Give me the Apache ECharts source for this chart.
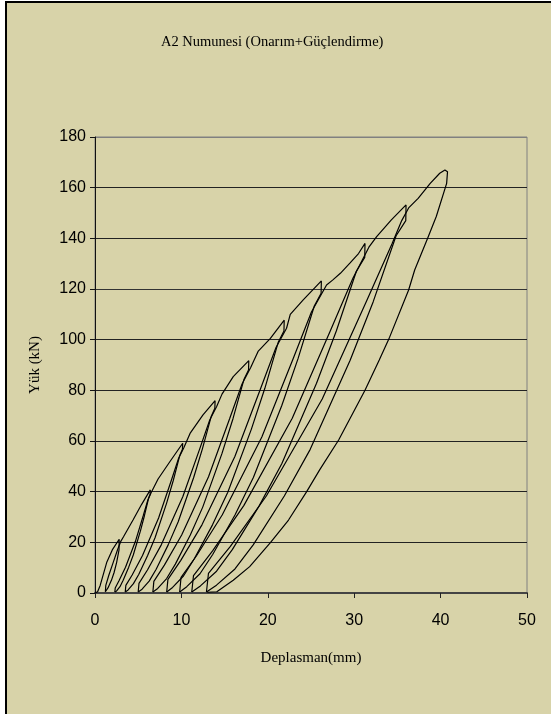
<!DOCTYPE html>
<html>
<head>
<meta charset="utf-8">
<script src="https://cdn.jsdelivr.net/npm/echarts/dist/echarts.min.js"></script>
<style>
html,body{margin:0;padding:0;background:#fff;}
#frame{position:absolute;left:5px;top:1px;width:546px;height:713px;box-sizing:border-box;border-top:2px solid #000;border-left:2px solid #000;background:#D8D3A9;}
#main{position:absolute;left:0;top:0;width:551px;height:714px;}
</style>
</head>
<body>
<div id="frame"></div>
<div id="main"></div>
<script>
// Displacement (mm), load (kN) pairs for each loading/unloading cycle
const cycle1 = [[0,0],[0.3,0.5],[0.5,0.3],[0.6,3],[1.35,12],[2.0,17],[2.8,21.2],[2.78,17],[2.5,12],[2.2,8],[1.9,5],[1.5,2],[1.2,0.5]];
const cycle2 = [[1.2,0.5],[1.25,3],[1.6,7],[2.1,12],[2.6,17],[3.0,20.5],[3.3,22.2],[4.4,28.8],[5.4,35],[6.4,40.7],
  [6.38,39],[6.2,37.4],[5.72,30.5],[5.25,24.4],[4.43,15],[3.9,10.2],[3.26,5],[2.89,2.5],[2.5,0.8],[2.3,0.4]];
const cycle3 = [[2.3,0.4],[2.34,2],[2.79,4.9],[3.53,10.2],[4.68,20.4],[5.58,30.5],[6.11,36.6],[6.48,39.5],[7.3,45],[8.7,52],[10.15,59.1],
  [10.12,56.7],[9.82,54.4],[9.05,44.3],[8.29,35.5],[6.96,21.9],[6.09,14.8],[5.06,7.3],[4.45,3.7],[3.83,1.2],[3.5,0.4]];
const cycle4 = [[3.5,0.4],[3.57,3],[4.3,7.1],[5.5,14.8],[7.36,29.6],[8.82,44.3],[9.68,53.2],[10.28,57.3],[11.0,63],[12.5,70.3],[13.9,75.9],
  [13.87,72.9],[13.46,69.8],[12.43,56.9],[11.41,45.5],[9.63,28.1],[8.47,19],[7.08,9.4],[6.27,4.7],[5.45,1.5],[5.0,0.4]];
const cycle5 = [[5.0,0.4],[5.09,3.8],[6.07,9.1],[7.67,19],[10.16,38],[12.12,56.9],[13.28,68.3],[14.08,73.6],[14.7,78.5],[16.0,85.4],[17.8,91.7],
  [17.77,88],[17.25,84.4],[15.97,68.8],[14.69,55],[12.47,33.9],[11.03,22.9],[9.3,11.4],[8.29,5.7],[7.26,1.8],[6.7,0.4]];
const cycle6 = [[6.7,0.4],[6.81,4.6],[8.03,11],[10.03,22.9],[13.14,45.9],[15.58,68.8],[17.02,82.5],[18.02,89],[18.9,95.5],[20.3,100.5],[21.9,107.7],
  [21.87,103.4],[21.22,99.1],[19.66,80.8],[18.09,64.6],[15.37,39.8],[13.6,26.9],[11.48,13.4],[10.24,6.7],[8.98,2.2],[8.3,0.4]];
const cycle7 = [[8.3,0.4],[8.44,5.4],[9.93,12.9],[12.38,26.9],[16.19,53.9],[19.18,80.8],[20.95,96.9],[22.17,104.5],[22.6,110],[24.1,115.7],[26.2,123.2],
  [26.17,118.3],[25.38,113.3],[23.49,92.4],[21.61,73.9],[18.33,45.6],[16.2,30.8],[13.64,15.3],[12.15,7.6],[10.62,2.5],[9.8,0.4]];
const cycle8 = [[9.8,0.4],[9.96,6.2],[11.77,14.8],[14.72,30.8],[19.31,61.6],[22.92,92.4],[25.05,110.9],[26.8,121.6],[27.5,123.5],[28.4,126.2],[29.5,130.2],[30.5,134],[31.25,138],
  [31.22,132.5],[30.25,127],[27.94,103.5],[25.64,82.8],[21.63,51.1],[19.02,34.5],[15.89,17.1],[14.07,8.6],[12.2,2.8],[11.2,0.4]];
const cycle9 = [[11.2,0.4],[11.4,6.9],[13.61,16.6],[17.22,34.5],[22.83,69],[27.24,103.5],[29.85,124.2],[31.7,136.5],[32.6,140.7],[34.3,147.3],[36.0,153.2],
  [35.97,147],[34.85,141],[32.19,114.9],[29.53,91.9],[24.91,56.7],[21.91,38.3],[18.31,19],[16.2,9.5],[14.06,3.1],[12.9,0.4]];
const cycle10 = [[12.9,0.4],[13.13,7.7],[15.67,18.4],[19.83,38.3],[26.3,76.6],[31.38,114.9],[34.38,137.9],[35.5,147],[36.3,152],[37.4,155.8],[38.8,161.7],[39.9,165.7],[40.5,167],[40.8,166.3],[40.7,161.7],
  [39.5,148.6],[38.5,140],[37,127.5],[36.3,119.6],[34.1,101],[32.9,92],[31.25,80],[28.2,60.4],[26,48.6],[24.5,40],[22.4,28.8],[20.3,19.9],[17.9,10.4],[16,5],[14.1,0.5],[13.0,0.3]];

const cycles = [cycle1,cycle2,cycle3,cycle4,cycle5,cycle6,cycle7,cycle8,cycle9,cycle10];
const titleText = 'A2 Numunesi (Onarım+Güçlendirme)';
const xName = 'Deplasman(mm)';
const yName = 'Yük (kN)';

const chart = echarts.init(document.getElementById('main'), null, {renderer:'canvas'});
const gridColors = ['#222','#222','#222','#222','#222','#222','#333','#222','#222','#808080'];
chart.setOption({
  backgroundColor: 'transparent',
  animation: false,
  title: {
    text: titleText, left: 156, top: 30,
    textStyle: {fontFamily: 'Liberation Serif', fontWeight: 'normal', fontSize: 14.5, color: '#000'}
  },
  grid: {left: 95, right: 24, top: 137, bottom: 121, show: true, borderColor: '#808080', borderWidth: 1, backgroundColor: 'transparent'},
  xAxis: {
    type: 'value', min: 0, max: 50, interval: 10,
    name: xName, nameLocation: 'middle', nameGap: 58,
    nameTextStyle: {fontFamily: 'Liberation Serif', fontSize: 15, color: '#000'},
    axisLine: {show: true, lineStyle: {color: '#444', width: 2}},
    axisTick: {show: true, inside: false, length: 5, lineStyle: {color: '#222', width: 1}},
    axisLabel: {fontFamily: 'Liberation Sans', fontSize: 16, color: '#000', margin: 20},
    splitLine: {show: false}
  },
  yAxis: {
    type: 'value', min: 0, max: 180, interval: 20,
    name: yName, nameLocation: 'middle', nameGap: 52, nameRotate: 90,
    nameTextStyle: {fontFamily: 'Liberation Serif', fontSize: 15, color: '#000'},
    axisLine: {show: true, lineStyle: {color: '#111', width: 1}},
    axisTick: {show: true, inside: false, length: 5, lineStyle: {color: '#111', width: 1}},
    axisLabel: {fontFamily: 'Liberation Sans', fontSize: 16, color: '#000', margin: 9},
    splitLine: {show: true, lineStyle: {color: gridColors, width: 1}}
  },
  series: cycles.map((c, i) => ({
    name: 'Cycle ' + (i + 1),
    type: 'line',
    data: c,
    showSymbol: false,
    symbol: 'none',
    smooth: false,
    lineStyle: {color: '#000', width: 1.2},
    z: 3
  }))
});
</script>
</body>
</html>
